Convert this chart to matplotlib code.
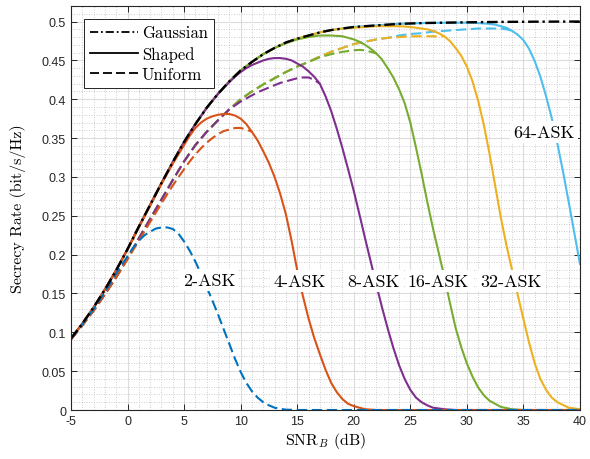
import matplotlib
matplotlib.use("Agg")
import matplotlib.pyplot as plt
from matplotlib.ticker import MultipleLocator, FormatStrFormatter

# all values: SNR_B in dB, secrecy rate in bit/s/Hz
gauss_x = [-5, -4, -3, -2, -1, 0, 1, 2, 3, 4, 5, 6, 7, 8, 9, 10, 11, 12, 13, 14,
           15, 16, 17, 18, 19, 20, 21, 22, 23, 24, 25, 26, 28, 30, 33, 36, 40]
gauss_y = [0.092, 0.111, 0.132, 0.155, 0.180, 0.207, 0.236, 0.264, 0.292, 0.319,
           0.345, 0.368, 0.389, 0.407, 0.423, 0.437, 0.448, 0.458, 0.466, 0.473,
           0.478, 0.482, 0.486, 0.489, 0.491, 0.493, 0.494, 0.495, 0.496, 0.497,
           0.4975, 0.498, 0.4985, 0.499, 0.4995, 0.4998, 0.5]

# 2-ASK (uniform only)
ask2_u_x = [-5, -4, -3, -2, -1, -0.5, 0, 0.5, 1, 1.5, 2, 2.5, 3, 3.5, 4, 4.5, 5, 5.5,
            6, 6.5, 7, 7.5, 8, 8.5, 9, 9.5, 10, 10.5, 11, 11.5, 12, 12.5, 13, 13.5,
            14, 15, 40]
ask2_u_y = [0.092, 0.110, 0.130, 0.152, 0.176, 0.187, 0.198, 0.209, 0.218, 0.225,
            0.2295, 0.2335, 0.235, 0.235, 0.233, 0.227, 0.217, 0.205, 0.191, 0.175,
            0.158, 0.141, 0.123, 0.104, 0.085, 0.066, 0.049, 0.035, 0.024, 0.016,
            0.010, 0.006, 0.003, 0.0015, 0.0005, 0, 0]

# 4-ASK
ask4_s_x = [-5, -4, -3, -2, -1, 0, 1, 2, 3, 4, 5, 5.5, 6, 6.5, 7, 7.5, 8, 8.5, 9, 9.5,
            10, 10.5, 11, 11.5, 12, 12.5, 13, 13.5, 14, 14.5, 15, 15.5, 16, 16.5, 17,
            17.5, 18, 18.5, 19, 19.5, 20, 21, 22, 40]
ask4_s_y = [0.092, 0.111, 0.132, 0.155, 0.180, 0.207, 0.235, 0.263, 0.291, 0.317,
            0.341, 0.353, 0.363, 0.370, 0.375, 0.378, 0.380, 0.381, 0.381, 0.379,
            0.375, 0.368, 0.358, 0.347, 0.333, 0.318, 0.300, 0.278, 0.252, 0.218,
            0.180, 0.147, 0.118, 0.093, 0.072, 0.052, 0.035, 0.023, 0.014, 0.008,
            0.005, 0.001, 0, 0]
ask4_u_x = [-5, -4, -3, -2, -1, 0, 1, 2, 3, 4, 5, 5.5, 6, 6.5, 7, 7.5, 8, 8.5, 9, 9.5,
            10, 10.5, 11]
ask4_u_y = [0.091, 0.109, 0.128, 0.149, 0.171, 0.194, 0.218, 0.242, 0.266, 0.289,
            0.310, 0.320, 0.329, 0.337, 0.344, 0.350, 0.355, 0.359, 0.361, 0.363,
            0.363, 0.361, 0.358]

# 8-ASK
ask8_s_x = [-5, -4, -3, -2, -1, 0, 1, 2, 3, 4, 5, 6, 7, 8, 9, 9.5, 10, 10.5, 11, 11.5,
            12, 12.5, 13, 13.5, 14, 14.5, 15, 15.5, 16, 16.5, 17, 17.5, 18, 18.5, 19,
            19.5, 20, 20.5, 21, 21.5, 22, 22.5, 23, 23.5, 24, 24.5, 25, 25.5, 26, 26.5,
            27, 28, 29, 40]
ask8_s_y = [0.092, 0.111, 0.132, 0.155, 0.180, 0.207, 0.236, 0.264, 0.292, 0.319,
            0.345, 0.368, 0.389, 0.407, 0.422, 0.429, 0.435, 0.440, 0.444, 0.447,
            0.450, 0.452, 0.453, 0.453, 0.452, 0.450, 0.446, 0.442, 0.436, 0.429,
            0.420, 0.404, 0.385, 0.362, 0.337, 0.310, 0.282, 0.252, 0.221, 0.191,
            0.161, 0.132, 0.105, 0.080, 0.058, 0.040, 0.026, 0.016, 0.010, 0.006,
            0.003, 0.001, 0, 0]
ask8_u_x = [-5, -4, -3, -2, -1, 0, 1, 2, 3, 4, 5, 6, 7, 8, 9, 9.5, 10, 10.5, 11, 11.5,
            12, 12.5, 13, 13.5, 14, 14.5, 15, 15.5, 16, 16.5, 17]
ask8_u_y = [0.091, 0.109, 0.128, 0.149, 0.171, 0.195, 0.221, 0.246, 0.271, 0.296,
            0.320, 0.341, 0.358, 0.373, 0.387, 0.392, 0.397, 0.401, 0.405, 0.409,
            0.412, 0.415, 0.418, 0.421, 0.423, 0.425, 0.427, 0.428, 0.428, 0.425,
            0.420]

# 16-ASK
ask16_s_x = [-5, -4, -3, -2, -1, 0, 1, 2, 3, 4, 5, 6, 7, 8, 9, 10, 11, 12, 13, 14,
             15, 16, 17, 18, 19, 19.5, 20, 20.5, 21, 21.5, 22, 22.5, 23, 23.5, 24,
             24.5, 25, 25.5, 26, 26.5, 27, 27.5, 28, 28.5, 29, 29.5, 30, 30.5, 31,
             31.5, 32, 33, 34, 35, 40]
ask16_s_y = [0.092, 0.111, 0.132, 0.155, 0.180, 0.207, 0.236, 0.264, 0.292, 0.319,
             0.345, 0.368, 0.389, 0.407, 0.423, 0.437, 0.448, 0.458, 0.466, 0.472,
             0.477, 0.480, 0.482, 0.482, 0.481, 0.479, 0.477, 0.474, 0.470, 0.465,
             0.459, 0.451, 0.440, 0.428, 0.413, 0.395, 0.370, 0.338, 0.304, 0.268,
             0.234, 0.203, 0.172, 0.138, 0.106, 0.081, 0.060, 0.043, 0.029, 0.019,
             0.012, 0.004, 0.001, 0, 0]
ask16_u_x = [-5, -4, -3, -2, -1, 0, 1, 2, 3, 4, 5, 6, 7, 8, 9, 10, 11, 12, 13, 14,
             15, 16, 17, 18, 19, 20, 20.5, 21, 21.5, 22]
ask16_u_y = [0.091, 0.109, 0.128, 0.149, 0.171, 0.195, 0.221, 0.246, 0.271, 0.296,
             0.320, 0.341, 0.358, 0.373, 0.387, 0.400, 0.410, 0.419, 0.427, 0.435,
             0.442, 0.448, 0.454, 0.458, 0.461, 0.463, 0.4635, 0.463, 0.461, 0.459]

# 32-ASK
ask32_s_x = [-5, -4, -3, -2, -1, 0, 1, 2, 3, 4, 5, 6, 7, 8, 9, 10, 11, 12, 13, 14,
             15, 16, 17, 18, 19, 20, 21, 22, 23, 24, 25, 25.5, 26, 26.5, 27, 27.5, 28,
             28.5, 29, 29.5, 30, 30.5, 31, 31.5, 32, 32.5, 33, 33.5, 34, 34.5, 35,
             35.5, 36, 36.5, 37, 37.5, 38, 39, 40]
ask32_s_y = [0.092, 0.111, 0.132, 0.155, 0.180, 0.207, 0.236, 0.264, 0.292, 0.319,
             0.345, 0.368, 0.389, 0.407, 0.423, 0.437, 0.448, 0.458, 0.466, 0.473,
             0.478, 0.482, 0.486, 0.489, 0.491, 0.492, 0.493, 0.494, 0.494, 0.494,
             0.493, 0.492, 0.491, 0.490, 0.488, 0.485, 0.481, 0.475, 0.466, 0.456,
             0.442, 0.423, 0.398, 0.367, 0.330, 0.289, 0.248, 0.212, 0.180, 0.148,
             0.117, 0.087, 0.060, 0.040, 0.026, 0.016, 0.010, 0.003, 0.001]
ask32_u_x = [-5, -4, -3, -2, -1, 0, 1, 2, 3, 4, 5, 6, 7, 8, 9, 10, 11, 12, 13, 14,
             15, 16, 17, 18, 19, 20, 21, 22, 23, 24, 25, 26, 27, 27.5, 28]
ask32_u_y = [0.091, 0.109, 0.128, 0.149, 0.171, 0.195, 0.221, 0.246, 0.271, 0.296,
             0.320, 0.341, 0.358, 0.373, 0.387, 0.400, 0.410, 0.419, 0.427, 0.435,
             0.442, 0.448, 0.455, 0.461, 0.466, 0.471, 0.474, 0.477, 0.479, 0.480,
             0.481, 0.481, 0.481, 0.481, 0.481]

# 64-ASK
ask64_s_x = [-5, -4, -3, -2, -1, 0, 1, 2, 3, 4, 5, 6, 7, 8, 9, 10, 11, 12, 13, 14,
             15, 16, 17, 18, 19, 20, 21, 22, 23, 24, 25, 26, 28, 30, 31, 32, 32.5, 33,
             33.5, 34, 34.5, 35, 35.5, 36, 36.5, 37, 37.5, 38, 38.5, 39, 39.5, 40]
ask64_s_y = [0.092, 0.111, 0.132, 0.155, 0.180, 0.207, 0.236, 0.264, 0.292, 0.319,
             0.345, 0.368, 0.389, 0.407, 0.423, 0.437, 0.448, 0.458, 0.466, 0.473,
             0.478, 0.482, 0.486, 0.489, 0.491, 0.493, 0.494, 0.495, 0.496, 0.497,
             0.4975, 0.498, 0.4985, 0.4985, 0.498, 0.497, 0.496, 0.494, 0.492, 0.488,
             0.483, 0.476, 0.465, 0.449, 0.429, 0.404, 0.376, 0.343, 0.307, 0.268,
             0.228, 0.188]
ask64_u_x = [-5, -4, -3, -2, -1, 0, 1, 2, 3, 4, 5, 6, 7, 8, 9, 10, 11, 12, 13, 14,
             15, 16, 17, 18, 19, 20, 21, 22, 23, 24, 25, 26, 27, 28, 29, 30, 31, 32,
             33, 33.5, 34]
ask64_u_y = [0.091, 0.109, 0.128, 0.149, 0.171, 0.195, 0.221, 0.246, 0.271, 0.296,
             0.320, 0.341, 0.358, 0.373, 0.387, 0.400, 0.410, 0.419, 0.427, 0.435,
             0.442, 0.448, 0.455, 0.461, 0.466, 0.471, 0.474, 0.477, 0.479, 0.482,
             0.484, 0.485, 0.487, 0.488, 0.489, 0.490, 0.491, 0.491, 0.491, 0.490,
             0.488]

# curve labels and where they sit (dB, rate)
ask_labels = ["2-ASK", "4-ASK", "8-ASK", "16-ASK", "32-ASK", "64-ASK"]
label_x = [7.2, 15.25, 21.7, 27.5, 33.9, 36.8]
label_y = [0.167, 0.166, 0.166, 0.166, 0.166, 0.358]

blue, orange, yellow = "#0072BD", "#D95319", "#EDB120"
purple, green, cyan = "#7E2F8E", "#77AC30", "#4DBEEE"

plt.rcParams['mathtext.fontset'] = 'cm'
plt.rcParams['axes.unicode_minus'] = False
plt.rcParams['font.family'] = 'Liberation Sans'

fig = plt.figure(figsize=(5.9, 4.6), dpi=100)
ax = fig.add_axes([0.1203, 0.1065, 0.8627, 0.8783])

dash = (5, 2.2)
dashdot = (4.5, 1.6, 1, 1.6)
lw = 1.5

# high order first so the low order curves end up on top along the zero line
ax.plot(ask64_s_x, ask64_s_y, color=cyan, lw=lw)
ax.plot(ask64_u_x, ask64_u_y, color=cyan, lw=lw, dashes=dash)
ax.plot(ask32_s_x, ask32_s_y, color=yellow, lw=lw)
ax.plot(ask32_u_x, ask32_u_y, color=yellow, lw=lw, dashes=dash)
ax.plot(ask16_s_x, ask16_s_y, color=green, lw=lw)
ax.plot(ask16_u_x, ask16_u_y, color=green, lw=lw, dashes=dash)
ax.plot(ask8_s_x, ask8_s_y, color=purple, lw=lw)
ax.plot(ask8_u_x, ask8_u_y, color=purple, lw=lw, dashes=dash)
ax.plot(ask4_s_x, ask4_s_y, color=orange, lw=lw)
ax.plot(ask4_u_x, ask4_u_y, color=orange, lw=lw, dashes=dash)
ax.plot(ask2_u_x, ask2_u_y, color=blue, lw=lw, dashes=dash)

ax.plot(gauss_x, gauss_y, color="black", lw=1.7, dashes=dashdot)

# legend proxies
h_g, = ax.plot([], [], color="black", lw=1.3, dashes=dashdot)
h_s, = ax.plot([], [], color="black", lw=1.3)
h_u, = ax.plot([], [], color="black", lw=1.3, dashes=dash)
leg = ax.legend([h_g, h_s, h_u], ["Gaussian", "Shaped", "Uniform"],
                loc="upper left", prop={"family": "cmr10", "size": 12},
                handlelength=2.9, handletextpad=0.2, borderpad=0.35,
                labelspacing=0.32, borderaxespad=0.8, fancybox=False,
                framealpha=1, edgecolor="black")
leg.get_frame().set_linewidth(0.6)

for txt, tx, ty in zip(ask_labels, label_x, label_y):
    ax.text(tx, ty, txt, family="cmr10", fontsize=13, ha="center", va="center",
            bbox=dict(facecolor="white", edgecolor="none", pad=2.5), zorder=5)

ax.set_xlim(-5, 40)
ax.set_ylim(0, 0.52)
ax.xaxis.set_major_locator(MultipleLocator(5))
ax.xaxis.set_minor_locator(MultipleLocator(1))
ax.yaxis.set_minor_locator(MultipleLocator(0.01))
ax.set_yticks([0, 0.05, 0.1, 0.15, 0.2, 0.25, 0.3, 0.35, 0.4, 0.45, 0.5])
ax.yaxis.set_major_formatter(FormatStrFormatter("%g"))

ax.grid(which="major", color="#DCDCDC", lw=0.8)
ax.grid(which="minor", color="#BDBDBD", lw=0.6, linestyle=(0, (1, 2)))
ax.set_axisbelow(True)

ax.tick_params(which="major", direction="in", length=4, width=0.7, top=True,
               right=True, labelsize=9, colors="#262626")
ax.tick_params(which="minor", length=0)
for sp in ax.spines.values():
    sp.set_color("#262626")
    sp.set_linewidth(0.8)

ax.set_xlabel("SNR$_B$ (dB)", family="cmr10", fontsize=11.5, labelpad=2)
ax.set_ylabel("Secrecy Rate (bit/s/Hz)", family="cmr10", fontsize=11.5)
ax.yaxis.set_label_coords(-0.088, 0.5)

fig.savefig("out.png", dpi=100)
